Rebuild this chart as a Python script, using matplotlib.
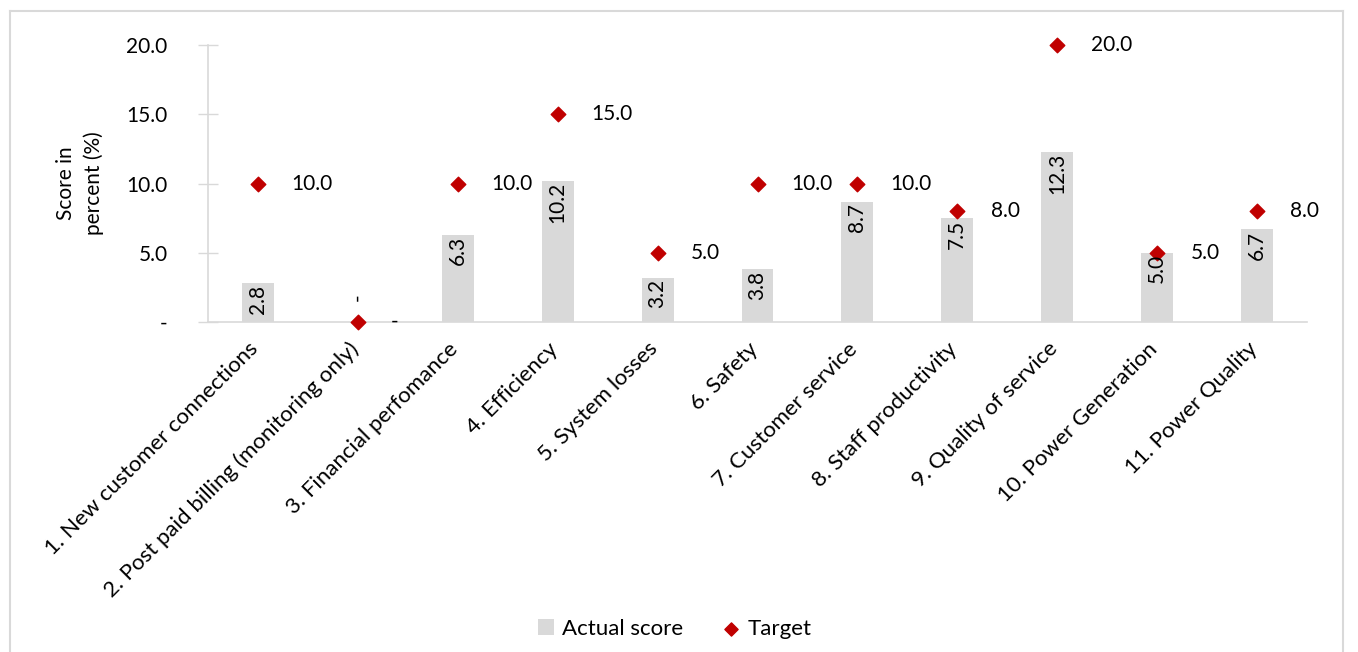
import matplotlib
matplotlib.use("Agg")
import matplotlib.pyplot as plt
import matplotlib.transforms as mtransforms
from matplotlib.lines import Line2D

plt.rcParams['font.family'] = ['Lato', 'DejaVu Sans']

categories = [
    "1. New customer connections",
    "2. Post paid billing (monitoring only)",
    "3. Financial perfomance",
    "4. Efficiency",
    "5. System losses",
    "6. Safety",
    "7. Customer service",
    "8. Staff productivity",
    "9. Quality of service",
    "10. Power Generation",
    "11. Power Quality",
]
actual_score = [2.8, 0.0, 6.3, 10.2, 3.2, 3.8, 8.7, 7.5, 12.3, 5.0, 6.7]
target = [10.0, 0.0, 10.0, 15.0, 5.0, 10.0, 10.0, 8.0, 20.0, 5.0, 8.0]
yticks = [0, 5, 10, 15, 20]

BAR_COLOR = "#d9d9d9"
TARGET_COLOR = "#c00000"
AXIS_COLOR = "#d9d9d9"
FS = 15


def fmt(v):
    return "-" if v == 0 else f"{v:.1f}"


fig = plt.figure(figsize=(13.58, 6.52), dpi=100)
ax = fig.add_axes([208 / 1358, 1 - 322 / 652, (1307 - 208) / 1358, (322 - 45) / 652])

x = list(range(len(categories)))
bars = ax.bar(x, actual_score, width=0.32, color=BAR_COLOR, zorder=2, label="Actual score")
pts = ax.scatter(x, target, marker="D", s=55, color=TARGET_COLOR, zorder=3,
                 label="Target", clip_on=False)

for xi, v in zip(x, actual_score):
    if v == 0:
        ax.annotate(fmt(v), (xi, v), xytext=(0, 18), textcoords="offset points",
                    rotation=90, ha="center", va="center", fontsize=FS)
    else:
        ax.annotate(fmt(v), (xi, v), xytext=(0, -1), textcoords="offset points",
                    rotation=90, ha="center", va="top", fontsize=FS)

for xi, v in zip(x, target):
    ax.annotate(fmt(v), (xi, v), xytext=(24, 0), textcoords="offset points",
                ha="left", va="center", fontsize=FS)

ax.set_xlim(-0.5, len(categories) - 0.5)
ax.set_ylim(0, 20)
ax.set_yticks(yticks)
ax.set_yticklabels([fmt(float(t)) for t in yticks], fontsize=FS)
ax.tick_params(axis="y", direction="inout", length=14, color=AXIS_COLOR, width=1, pad=22)
ax.set_xticks(x)
ax.set_xticklabels(categories, rotation=45, ha="right", rotation_mode="anchor", fontsize=16)
ax.tick_params(axis="x", length=0, pad=12)
shift = mtransforms.ScaledTranslation(-10 / 100, 0, fig.dpi_scale_trans)
for lbl in ax.get_xticklabels():
    lbl.set_transform(lbl.get_transform() + shift)

for side in ("top", "right"):
    ax.spines[side].set_visible(False)
for side in ("left", "bottom"):
    ax.spines[side].set_color(AXIS_COLOR)
    ax.spines[side].set_linewidth(1.2)

fig.text(80 / 1358, 1 - 183 / 652, "Score in\npercent (%)", rotation=90,
         ha="center", va="center", fontsize=15, linespacing=1.4)

leg = fig.legend([bars, pts], ["Actual score", "Target"], loc="center",
                 bbox_to_anchor=(675 / 1358, 1 - 629 / 652), ncol=2,
                 frameon=False, fontsize=16, handlelength=0.7, handletextpad=0.4,
                 columnspacing=1.8)
for h in leg.legend_handles:
    try:
        h.set_sizes([45])
    except AttributeError:
        pass

# light frame around the chart area
kw = dict(color="#d9d9d9", linewidth=1.5, transform=fig.transFigure)
fig.add_artist(Line2D([10 / 1358, 10 / 1358], [0, 1 - 11 / 652], **kw))
fig.add_artist(Line2D([10 / 1358, 1343 / 1358], [1 - 11 / 652, 1 - 11 / 652], **kw))
fig.add_artist(Line2D([1343 / 1358, 1343 / 1358], [0, 1 - 11 / 652], **kw))

fig.savefig("out.png", dpi=100)
